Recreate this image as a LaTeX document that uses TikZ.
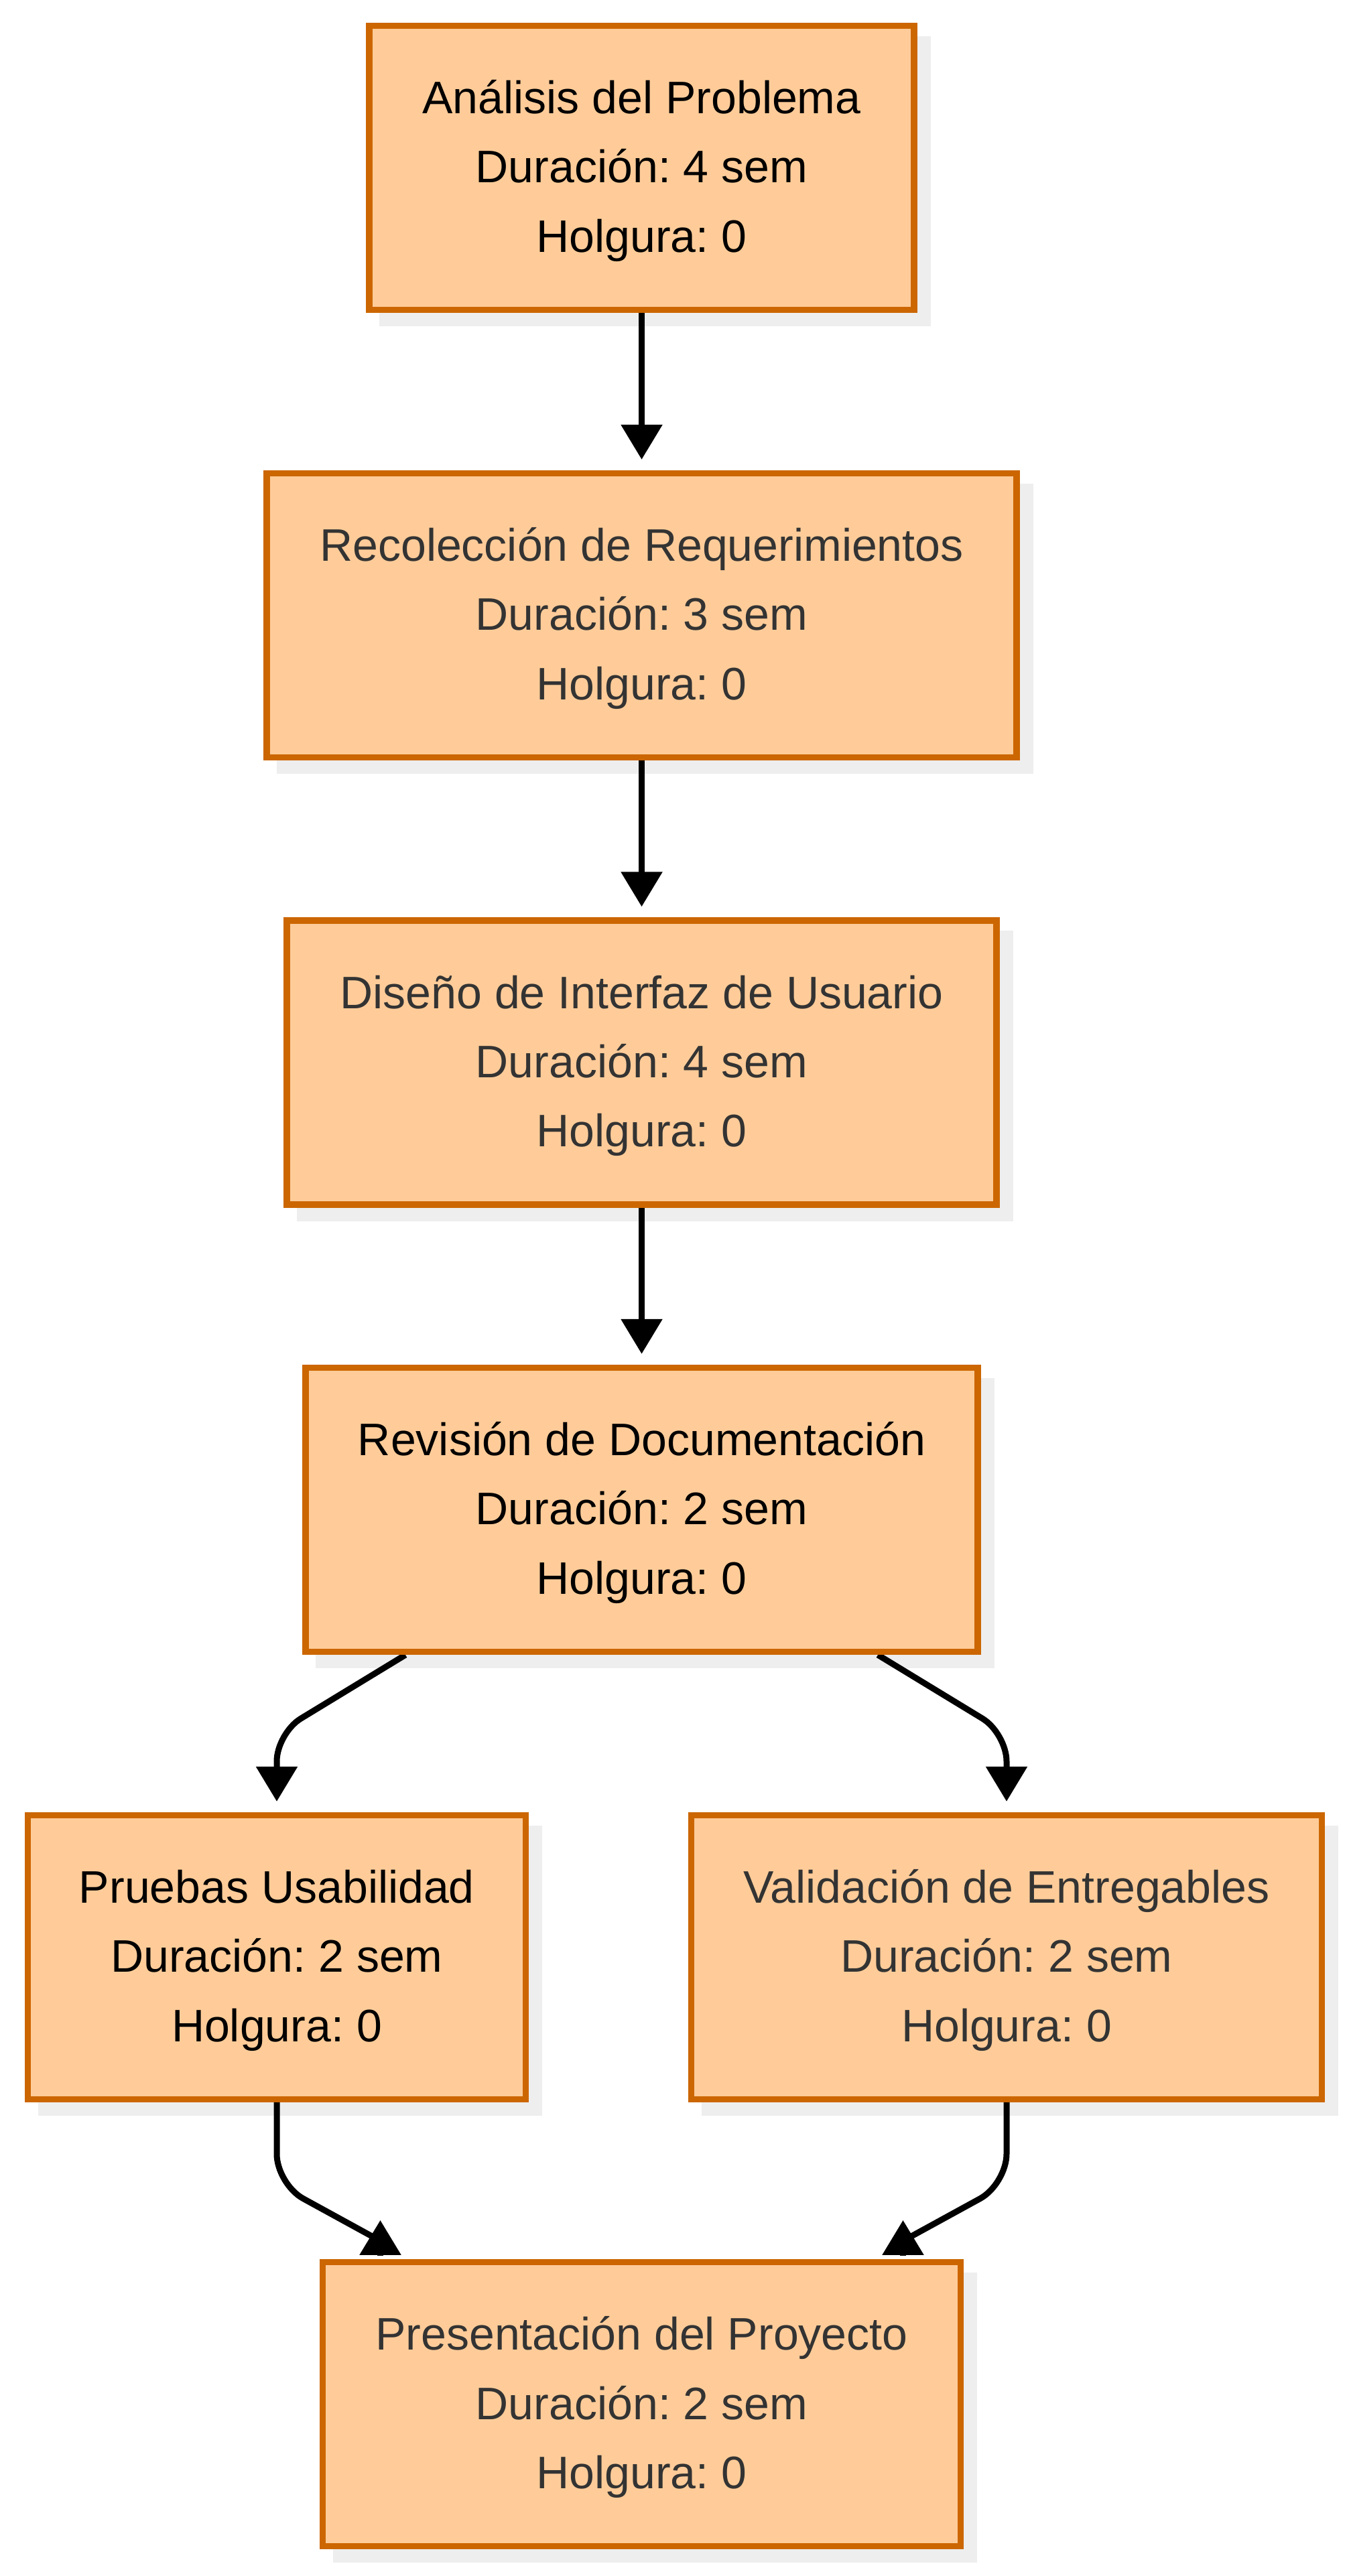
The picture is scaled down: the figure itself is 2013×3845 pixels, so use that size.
\documentclass[tikz,border=0pt]{standalone}
\usepackage{fontspec}
\setmainfont{Liberation Sans}
\usetikzlibrary{arrows.meta,calc}
\definecolor{boxfill}{HTML}{FFCC99}
\definecolor{boxline}{HTML}{CC6600}
\definecolor{shadowc}{HTML}{EEEEEE}
\definecolor{txtgray}{HTML}{333333}
\pgfdeclarelayer{bg}
\pgfdeclarelayer{edges}
\pgfsetlayers{bg,edges,main}
\frenchspacing
\newcommand{\lstrut}{\rule[-0.29em]{0pt}{1.24em}}
\tikzset{
  task/.style={draw=boxline, fill=boxfill, line width=0.095cm, rectangle,
    minimum height=4.235cm, inner sep=0pt, align=center,
    font=\fontsize{0.68cm}{1.03cm}\selectfont},
  conn/.style={draw=black, line width=0.09cm},
  arr/.style={-{Triangle[width=0.6cm,length=0.52cm]}},
}
\begin{document}
\begin{tikzpicture}[x=0.01cm,y=-0.01cm]
\useasboundingbox (0,0) rectangle (2013,3845);

\node[task, minimum width=8.125cm] (n1) at (957.5,250.5)
  {\lstrut Análisis del Problema\\\lstrut Duración: 4 sem\\\lstrut Holgura: 0};
\node[task, text=txtgray, minimum width=11.185cm] (n2) at (957.5,918.5)
  {\lstrut Recolección de Requerimientos\\\lstrut Duración: 3 sem\\\lstrut Holgura: 0};
\node[task, text=txtgray, minimum width=10.585cm] (n3) at (957.5,1586)
  {\lstrut Diseño de Interfaz de Usuario\\\lstrut Duración: 4 sem\\\lstrut Holgura: 0};
\node[task, minimum width=10.025cm] (n4) at (957.5,2253.5)
  {\lstrut Revisión de Documentación\\\lstrut Duración: 2 sem\\\lstrut Holgura: 0};
\node[task, minimum width=7.425cm] (n5) at (413,2921.5)
  {\lstrut Pruebas Usabilidad\\\lstrut Duración: 2 sem\\\lstrut Holgura: 0};
\node[task, text=txtgray, minimum width=9.405cm] (n6) at (1502,2921.5)
  {\lstrut Validación de Entregables\\\lstrut Duración: 2 sem\\\lstrut Holgura: 0};
\node[task, text=txtgray, minimum width=9.515cm] (n7) at (957.5,3588.5)
  {\lstrut Presentación del Proyecto\\\lstrut Duración: 2 sem\\\lstrut Holgura: 0};

\begin{pgfonlayer}{bg}
  \fill[white] (0,0) rectangle (2013,3845);
  \foreach \n in {n1,n2,n3,n4,n5,n6,n7}
    \fill[shadowc] ($(\n.south west)+(20,20)$) rectangle ($(\n.north east)+(20,20)$);
\end{pgfonlayer}

\begin{pgfonlayer}{edges}
  \draw[conn,arr,shorten >=0.16cm] (n1) -- (n2);
  \draw[conn,arr,shorten >=0.16cm] (n2) -- (n3);
  \draw[conn,arr,shorten >=0.16cm] (n3) -- (n4);

  \coordinate (s1) at ($(n4.south)+(-352.5,0)$);
  \coordinate (c1) at (413,2587);
  \draw[conn,arr,shorten >=0.16cm,rounded corners=0.42cm] (s1) -- (c1) -- (n5.north);
  \coordinate (s2) at ($(n4.south)+(352.5,0)$);
  \coordinate (c2) at (1502,2587);
  \draw[conn,arr,shorten >=0.16cm,rounded corners=0.42cm] (s2) -- (c2) -- (n6.north);

  \coordinate (c3) at (413,3260);
  \coordinate (e3) at (568,3345);
  \coordinate (b3) at ($(n7.north)+(-390,-5)$);
  \coordinate (t3) at ($(n7.north)+(-390,-58)$);
  \draw[conn,rounded corners=0.45cm] (n5.south) -- (c3) -- (e3);
  \draw[conn,arr] (b3) -- (t3);

  \coordinate (c4) at (1502,3260);
  \coordinate (e4) at (1347,3345);
  \coordinate (b4) at ($(n7.north)+(390,-5)$);
  \coordinate (t4) at ($(n7.north)+(390,-58)$);
  \draw[conn,rounded corners=0.45cm] (n6.south) -- (c4) -- (e4);
  \draw[conn,arr] (b4) -- (t4);
\end{pgfonlayer}
\end{tikzpicture}
\end{document}
